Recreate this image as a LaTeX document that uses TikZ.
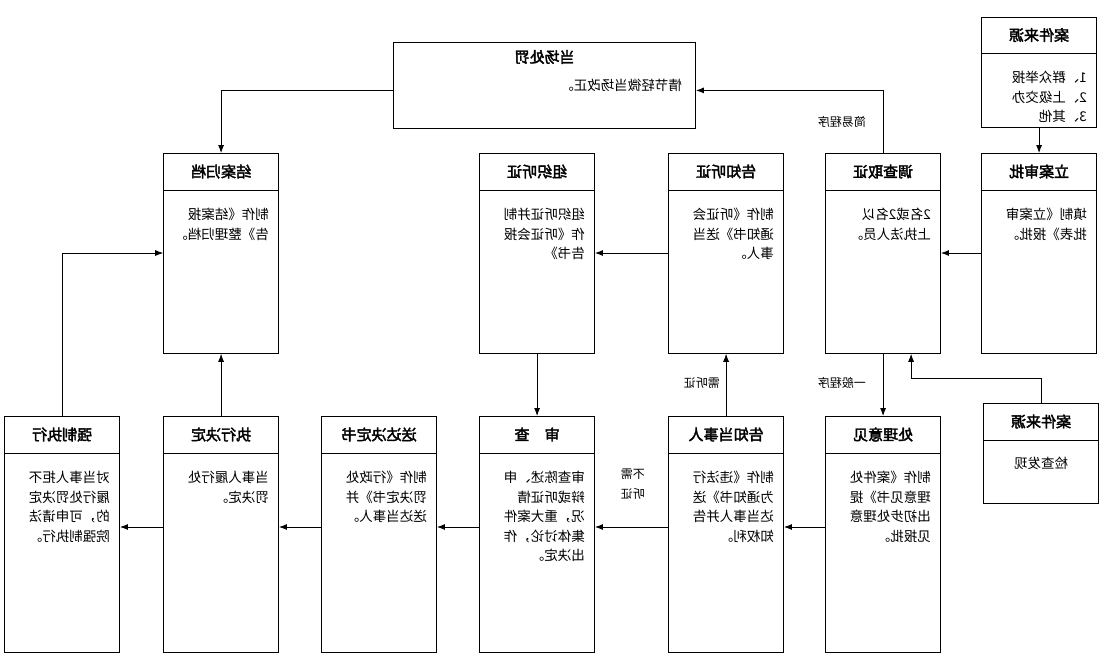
\documentclass[tikz,border=0pt]{standalone}
\usepackage{fontspec}
\setmainfont{Noto Sans CJK SC}[AutoFakeBold=2.5]
\usetikzlibrary{calc,arrows.meta}
\tikzset{
  box/.style={draw,line width=0.8pt,minimum width=115pt,anchor=north west,inner sep=0pt},
  ttl/.style={font=\fontsize{15}{15}\selectfont\bfseries,inner sep=0pt},
  bdy/.style={font=\fontsize{13.5}{19.5}\selectfont,align=left,anchor=north west,inner sep=0pt},
  lbl/.style={font=\fontsize{12}{20}\selectfont,inner sep=0pt,align=center},
  arr/.style={line width=0.8pt,-{Latex[length=8pt,width=6pt]}},
  every node/.append style={transform shape}
}
\newcommand\fbx[7]{% name,x,y,h,title,body,header
  \node[box,minimum height=#4pt] (#1) at (#2,#3) {};
  \draw[line width=0.8pt] ($(#1.north west)+(0,#7)$) -- ($(#1.north east)+(0,#7)$);
  \node[ttl] at ($(#1.north)+(0,#7/2)$) {#5};
  \node[bdy] at ($(#1.north west)+(10,#7+18)$) {#6};
}
\begin{document}
\begin{tikzpicture}[x=1pt,y=-1pt,xscale=-1]
\useasboundingbox (0,0) rectangle (1114,665);
\fbx{srcA}{17}{17}{110}{案件来源}{1、群众举报\\2、上级交办\\3、其他}{36}
\fbx{lian}{17}{153}{200}{立案审批}{填制《立案审\\批表》报批。}{37}
\fbx{diao}{173}{153}{200}{调查取证}{2名或2名以\\上执法人员。}{37}
\fbx{tz}{330}{153}{200}{告知听证}{制作《听证会\\通知书》送当\\事人。}{37}
\fbx{zz}{519}{153}{200}{组织听证}{组织听证并制\\作《听证会报\\告书》}{37}
\fbx{ja}{835}{153}{200}{结案归档}{制作《结案报\\告》整理归档。}{37}
\fbx{qz}{994}{416}{236}{强制执行}{对当事人拒不\\履行处罚决定\\的，可申请法\\院强制执行。}{37}
\fbx{zx}{835}{416}{236}{执行决定}{当事人履行处\\罚决定。}{37}
\fbx{sd}{677}{416}{236}{送达决定书}{制作《行政处\\罚决定书》并\\送达当事人。}{37}
\fbx{sc}{519}{416}{236}{审\quad 查}{审查陈述、申\\辩或听证情\\况，重大案件\\集体讨论，作\\出决定。}{37}
\fbx{gz}{330}{416}{236}{告知当事人}{制作《违法行\\为通知书》送\\达当事人并告\\知权利。}{37}
\fbx{cl}{173}{416}{236}{处理意见}{制作《案件处\\理意见书》提\\出初步处理意\\见报批。}{37}
\node[box,minimum height=100pt] (srcB) at (15,403) {};
\draw[line width=0.8pt] ($(srcB.north west)+(0,37)$) -- ($(srcB.north east)+(0,37)$);
\node[ttl] at ($(srcB.north)+(0,18.5)$) {案件来源};
\node[lbl,font=\fontsize{13.5}{16}\selectfont] (srcBt) at ($(srcB.north)+(0,60)$) {检查发现};
\node[box,minimum width=302pt,minimum height=86pt] (dc) at (418,42) {};
\node[ttl] (dct) at ($(dc.north)+(0,15)$) {当场处罚};
\node[bdy,anchor=west] (dcb) at ($(dc.north west)+(14,43)$) {情节轻微当场改正。};
% labels
\node[lbl] (l1) at (272,122) {简易程序};
\node[lbl] (l2) at (272,383) {一般程序};
\node[lbl] (l3) at (412,383) {需听证};
\node[lbl] (l4) at (481,484) {不需\\听证};
% connectors
\coordinate (y253) at (0,253);
\coordinate (y527) at (0,527);
\draw[arr] (srcA.south) -- (lian.north);
\draw[arr] (lian.east |- y253) -- (diao.west |- y253);
\draw[arr] (diao.north) |- ($(dc.west)+(0,5)$);
\draw[arr] (diao.south) -- (cl.north);
\draw[arr] (srcB.north) -- ++(0,-25) -| ($(diao.south)+(-28,0)$);
\draw[arr] (cl.east |- y527) -- (gz.west |- y527);
\draw[arr] (gz.north) -- (tz.south);
\draw[arr] (tz.east |- y253) -- (zz.west |- y253);
\draw[arr] (zz.south) -- (sc.north);
\draw[arr] (gz.east |- y527) -- (sc.west |- y527);
\draw[arr] (sc.east |- y527) -- (sd.west |- y527);
\draw[arr] (sd.east |- y527) -- (zx.west |- y527);
\draw[arr] (zx.east |- y527) -- (qz.west |- y527);
\draw[arr] (zx.north) -- (ja.south);
\draw[arr] (qz.north) |- (ja.east |- y253);
\draw[arr] ($(dc.east)+(0,5)$) -| (ja.north);
\end{tikzpicture}
\end{document}
